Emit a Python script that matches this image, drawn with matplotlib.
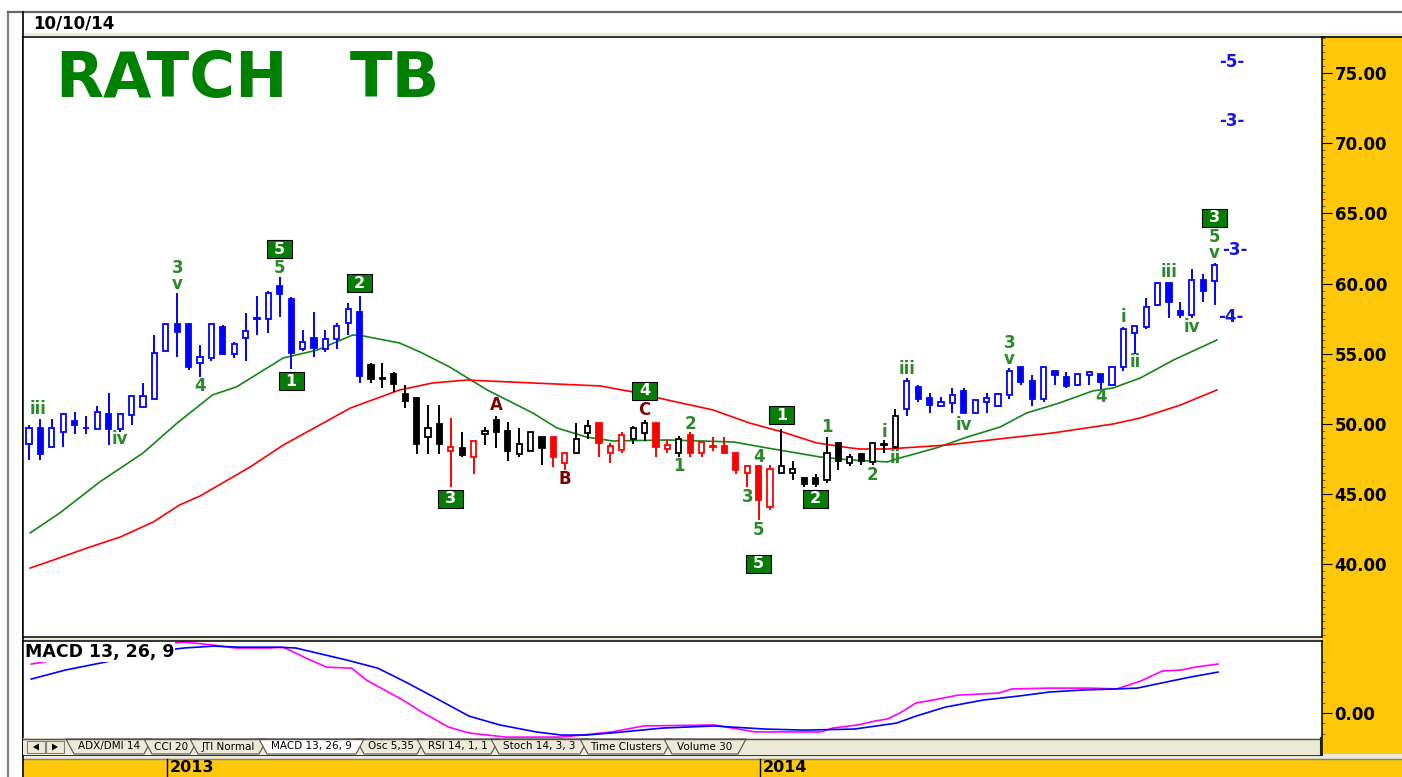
import numpy as np
import matplotlib.pyplot as plt
from matplotlib.patches import Rectangle, Polygon
from matplotlib.ticker import FixedLocator
from matplotlib.transforms import blended_transform_factory

plt.rcParams["font.family"] = ["DejaVu Sans"]

# weekly candles (price units)
opens = [48.55, 49.74, 48.34, 49.46, 50.24, 49.72, 49.65, 50.69, 49.65, 50.64,
         51.24, 51.76, 55.20, 57.10, 57.10, 54.32, 54.73, 56.94, 54.96, 56.15,
         57.50, 57.46, 59.83, 58.93, 55.34, 56.10, 55.34, 56.06, 57.22, 57.98,
         54.20, 53.27, 53.54, 52.12, 51.83, 49.10, 49.98, 48.10, 48.32, 47.63,
         49.29, 50.29, 49.53, 47.87, 48.10, 49.05, 49.05, 47.25, 47.96, 49.39,
         50.10, 47.96, 48.15, 48.91, 49.39, 50.10, 48.20, 47.91, 49.22, 47.91,
         48.34, 48.46, 47.96, 46.54, 47.01, 44.12, 46.49, 46.54, 46.13, 46.13,
         46.02, 48.68, 47.20, 47.86, 47.32, 48.50, 48.39, 51.04, 52.61, 51.83,
         51.28, 51.52, 52.37, 50.76, 51.59, 51.28, 52.07, 54.04, 53.09, 51.76,
         53.77, 53.32, 52.78, 53.49, 53.56, 52.78, 54.04, 56.50, 56.89, 58.48,
         60.02, 58.07, 57.76, 60.26, 60.21]
highs = [49.93, 50.36, 50.36, 50.69, 50.88, 50.60, 51.31, 52.19, 50.69, 52.02,
         52.90, 56.32, 57.10, 59.36, 57.22, 55.63, 57.10, 57.05, 55.87, 57.93,
         59.12, 59.50, 60.50, 59.07, 56.70, 57.96, 56.70, 57.17, 58.64, 59.12,
         54.37, 54.37, 53.68, 52.78, 51.95, 51.36, 51.36, 50.45, 49.46, 48.82,
         49.77, 50.57, 50.17, 49.70, 49.46, 49.05, 49.05, 47.96, 50.05, 50.29,
         50.10, 48.68, 49.46, 49.86, 50.29, 50.10, 48.87, 49.15, 49.46, 48.70,
         49.10, 49.10, 47.96, 47.01, 47.01, 47.08, 49.62, 47.39, 46.20, 46.44,
         49.10, 48.68, 47.86, 47.86, 48.62, 48.86, 51.04, 53.25, 52.78, 52.23,
         51.95, 52.54, 52.54, 51.71, 52.23, 52.23, 53.97, 54.04, 53.49, 54.04,
         53.77, 53.73, 53.56, 53.80, 53.56, 54.04, 56.93, 56.98, 58.95, 60.02,
         60.02, 58.71, 61.02, 60.69, 61.49]
lows = [47.44, 47.44, 48.34, 48.34, 49.29, 49.29, 49.65, 48.50, 49.41, 49.93,
        51.24, 51.76, 55.20, 54.75, 53.85, 53.37, 54.49, 54.92, 54.73, 54.49,
        56.32, 56.51, 57.65, 53.90, 55.23, 54.80, 55.11, 55.34, 56.34, 52.95,
        52.95, 52.54, 52.26, 51.12, 47.87, 47.87, 47.87, 45.49, 47.63, 46.44,
        48.51, 48.27, 47.39, 47.63, 48.10, 47.08, 46.92, 46.73, 47.87, 48.91,
        47.63, 47.25, 47.91, 48.58, 48.82, 47.63, 47.91, 47.63, 47.63, 47.63,
        48.10, 47.87, 46.44, 45.49, 43.17, 43.88, 46.44, 46.02, 45.49, 45.49,
        45.78, 46.73, 47.00, 47.08, 47.08, 47.91, 48.20, 50.57, 51.59, 50.80,
        51.24, 50.80, 50.76, 50.76, 50.80, 51.24, 51.76, 52.78, 51.28, 51.59,
        52.78, 52.54, 52.71, 52.78, 52.47, 52.78, 53.80, 54.99, 56.74, 58.41,
        57.53, 57.53, 57.53, 58.71, 58.48]
closes = [49.74, 47.87, 49.74, 50.69, 49.93, 49.68, 50.88, 49.65, 50.69, 52.02,
          52.02, 55.04, 57.10, 56.58, 54.09, 54.80, 57.10, 54.96, 55.68, 56.63,
          57.55, 59.36, 59.26, 55.08, 55.82, 55.39, 56.06, 56.98, 58.17, 53.42,
          53.18, 53.23, 52.83, 51.64, 48.55, 49.69, 48.55, 48.34, 47.80, 48.82,
          49.53, 49.46, 48.10, 48.58, 49.46, 48.27, 47.63, 47.96, 48.91, 49.86,
          48.68, 48.44, 49.22, 49.70, 50.10, 48.39, 48.51, 48.94, 47.91, 48.70,
          48.46, 47.91, 46.73, 47.01, 44.59, 46.77, 47.01, 46.77, 45.73, 45.73,
          47.96, 47.39, 47.67, 47.39, 48.62, 48.60, 50.57, 53.06, 51.76, 51.35,
          51.59, 52.07, 50.80, 51.71, 51.83, 52.14, 53.80, 53.02, 51.76, 54.04,
          53.49, 52.71, 53.56, 53.73, 53.02, 54.04, 56.74, 56.98, 58.31, 60.02,
          58.72, 57.76, 60.26, 59.50, 61.33]
# b = blue, k = black, r = red
candle_colors = ("b" * 30 + "k" * 7 + "r" + "k" + "r" + "k" * 6 + "rr" + "kk"
                 + "rrr" + "kk" + "rr" + "k" + "r" * 8 + "k" * 11 + "b" * 28)

# moving averages (green fast, red slow), x in bar index
ma_fast_x = [0.1, 2.7, 6.2, 10.0, 13.0, 16.1, 18.2, 22.3, 25.3, 28.4, 29.3, 32.5,
             34.3, 36.9, 40.2, 44.2, 46.3, 48.9, 51.2, 56.0, 61.8, 64.7, 69.4, 72.0,
             75.3, 76.4, 79.6, 82.3, 85.2, 87.5, 90.4, 93.3, 95.1, 97.5, 100.4, 104.2]
ma_fast = [42.24, 43.66, 45.87, 47.93, 50.07, 52.07, 52.64, 54.70, 55.27, 56.34,
           56.27, 55.77, 55.13, 54.06, 52.42, 50.78, 49.72, 49.07, 48.79, 48.86,
           48.72, 48.30, 47.65, 47.44, 47.30, 47.58, 48.30, 49.07, 49.79, 50.78,
           51.50, 52.35, 52.57, 53.28, 54.56, 55.98]
ma_slow_x = [0.1, 2.1, 5.1, 8.0, 10.9, 13.2, 15.0, 17.4, 19.4, 22.3, 25.5, 28.2,
             32.5, 35.4, 38.4, 44.2, 50.1, 53.0, 56.0, 60.0, 63.2, 66.1, 69.1, 72.0,
             72.9, 75.3, 80.5, 85.8, 89.8, 95.1, 97.5, 101.0, 104.2]
ma_slow = [39.74, 40.30, 41.17, 41.95, 43.02, 44.23, 44.87, 46.00, 46.94, 48.50,
           49.93, 51.14, 52.42, 52.92, 53.13, 52.92, 52.71, 52.28, 51.71, 51.00,
           50.07, 49.43, 48.65, 48.30, 48.22, 48.22, 48.50, 49.00, 49.36, 50.00,
           50.43, 51.35, 52.42]

# MACD 13,26,9 (magenta) and its signal (blue)
macd_x = [0.2, 1.7, 7.0, 13.6, 16.2, 18.1, 21.1, 22.3, 24.3, 26.1, 28.3, 29.6,
          32.8, 34.6, 36.8, 38.6, 41.8, 46.7, 48.5, 51.1, 53.9, 60.1, 63.7, 66.1,
          69.5, 70.5, 72.7, 74.2, 75.3, 76.4, 77.8, 79.3, 81.5, 85.1, 86.2, 89.5,
          93.2, 95.4, 97.5, 99.4, 101.1, 102.3, 104.3]
macd = [2.38, 2.52, 3.10, 3.45, 3.30, 3.16, 3.16, 3.20, 2.67, 2.23, 2.18, 1.60,
        0.63, 0.00, -0.68, -0.97, -1.17, -1.17, -1.07, -0.92, -0.63, -0.58, -0.92,
        -0.92, -0.92, -0.73, -0.58, -0.39, -0.29, 0.00, 0.49, 0.63, 0.87, 0.97,
        1.17, 1.21, 1.21, 1.17, 1.55, 2.04, 2.09, 2.23, 2.38]
signal_x = [0.2, 3.2, 7.1, 10.6, 13.6, 16.2, 18.5, 21.7, 23.4, 27.9, 30.6, 33.2,
            36.0, 38.6, 41.3, 44.5, 46.7, 48.9, 51.1, 55.6, 60.1, 64.6, 68.0, 72.4,
            76.1, 77.8, 80.4, 83.7, 86.9, 89.5, 92.5, 95.4, 97.2, 99.7, 101.9, 104.3]
signal = [1.65, 2.09, 2.52, 2.96, 3.16, 3.25, 3.20, 3.20, 3.16, 2.57, 2.18, 1.46,
          0.63, -0.15, -0.58, -0.92, -1.07, -1.07, -0.97, -0.73, -0.63, -0.78,
          -0.83, -0.78, -0.49, -0.15, 0.29, 0.63, 0.83, 1.02, 1.12, 1.17, 1.21,
          1.50, 1.75, 1.99]

price_ticks = [40, 45, 50, 55, 60, 65, 70, 75]
year_labels = ["2013", "2014"]
year_starts = [12.1, 64.1]

# wave counts: (text, bar index, price)
wave_labels = [("iii", 0.8, 51.1), ("iv", 8, 48.9), ("3", 13, 61.1), ("v", 13, 60.0),
               ("4", 15, 52.7), ("5", 22, 61.1), ("1", 57, 47.0), ("2", 58, 50.0),
               ("3", 63, 44.8), ("4", 64, 47.65), ("5", 64, 42.45), ("1", 70, 49.8),
               ("2", 74, 46.4), ("i", 75, 49.4), ("ii", 76, 47.6), ("iii", 77, 53.9),
               ("iv", 82, 49.9), ("3", 86, 55.8), ("v", 86, 54.6), ("4", 94, 51.9),
               ("i", 96, 57.6), ("ii", 97, 54.4), ("iii", 100, 60.8), ("iv", 102, 56.9),
               ("5", 104, 63.3), ("v", 104, 62.2)]
wave_boxes = [("5", 22, 62.46), ("1", 23, 53.06), ("2", 29, 60.04), ("3", 37, 44.66),
              ("4", 54, 52.35), ("5", 64, 40.03), ("1", 66, 50.64), ("2", 69, 44.66),
              ("3", 104, 64.67)]
abc_labels = [("A", 41, 51.35), ("B", 47, 46.08), ("C", 54, 51.0)]
target_labels = [("-5-", 105.5, 75.78), ("-3-", 105.5, 71.58), ("-3-", 105.8, 62.39),
                 ("-4-", 105.4, 57.62)]

tab_names = ["ADX/DMI 14", "CCI 20", "JTI Normal", "MACD 13, 26, 9", "Osc 5,35",
             "RSI 14, 1, 1", "Stoch 14, 3, 3", "Time Clusters", "Volume 30"]
active_tab = 3

YELLOW = "#FFC70A"
BEIGE = "#ECE9D8"
W, H = 1402, 777


def frame(x0, y0, x1, y1):
    return [x0 / W, 1 - y1 / H, (x1 - x0) / W, (y1 - y0) / H]


def box(a, x0, y0, x1, y1, color, z=1):
    a.add_patch(Rectangle((x0, y0), x1 - x0, y1 - y0, facecolor=color,
                          edgecolor="none", zorder=z))


fig = plt.figure(figsize=(W / 100, H / 100), dpi=100, facecolor="white")

# window chrome behind the panels
bg = fig.add_axes([0, 0, 1, 1], zorder=0)
bg.set_xlim(0, W)
bg.set_ylim(H, 0)
bg.axis("off")
box(bg, 1322, 37, W, 755, YELLOW)
box(bg, 23, 759, W, H, YELLOW)
box(bg, 23, 754, W, 759, BEIGE)
box(bg, 23, 637, 1322, 641, BEIGE)
box(bg, 23, 33, W, 36, BEIGE)
bg.plot([23, W], [758.5, 758.5], color="#808080", lw=1)
bg.plot([1322, W], [37, 37], color="black", lw=1.2)
bg.plot([8, 8], [12, H], color="#808080", lw=1.6)
bg.plot([8, W], [12, 12], color="#686868", lw=1.6)
bg.plot([23, 23], [12, H], color="black", lw=1.2)
bg.text(33, 24, "10/10/14", fontsize=12, fontweight="bold", va="center")

# price panel
ax = fig.add_axes(frame(23, 37, 1322, 637), zorder=2)
x = np.arange(len(closes))
cmap = {"b": "#0000FF", "k": "#000000", "r": "#FF0000"}
cols = [cmap[c] for c in candle_colors]
o = np.array(opens)
c = np.array(closes)
body_lo = np.minimum(o, c)
body_h = np.maximum(np.abs(c - o), 0.06)
faces = ["white" if cl >= op else col for op, cl, col in zip(opens, closes, cols)]
ax.vlines(x, lows, highs, colors=cols, lw=1.4, zorder=3)
ax.bar(x, body_h, width=0.45, bottom=body_lo, color=faces, edgecolor=cols,
       linewidth=1.3, zorder=4)
ax.plot(ma_fast_x, ma_fast, color="#138613", lw=1.2, zorder=2)
ax.plot(ma_slow_x, ma_slow, color="#FF0000", lw=1.2, zorder=2)

for s, i, p in wave_labels:
    ax.text(i, p, s, color="#2A8A2A", fontsize=12, fontweight="bold",
            ha="center", va="center", zorder=6)
for s, i, p in abc_labels:
    ax.text(i, p, s, color="#800000", fontsize=12, fontweight="bold",
            ha="center", va="center", zorder=6)
for s, i, p in target_labels:
    ax.text(i, p, s, color="#1414F0", fontsize=12, fontweight="bold",
            ha="center", va="center", zorder=6)
for s, i, p in wave_boxes:
    ax.add_patch(Rectangle((i - 1.1, p - 0.64), 2.2, 1.28, facecolor="#077D07",
                           edgecolor="black", lw=0.8, zorder=6))
    ax.text(i, p, s, color="white", fontsize=11.5, fontweight="bold",
            ha="center", va="center", zorder=7)

ax.text(0.0246, 0.9, "RATCH", transform=ax.transAxes, color="#008000",
        fontsize=45, fontweight="bold", va="baseline")
ax.text(0.2517, 0.9, "TB", transform=ax.transAxes, color="#008000",
        fontsize=45, fontweight="bold", va="baseline")

ax.set_xlim((23 - 29) / 11.4, (1322 - 29) / 11.4)
ax.set_ylim(34.83, 77.56)
ax.yaxis.tick_right()
ax.set_yticks(price_ticks)
ax.set_yticklabels([f"{v:.2f}" for v in price_ticks])
ax.yaxis.set_minor_locator(FixedLocator(np.arange(35, 77.6, 0.5)))
ax.tick_params(axis="y", which="major", length=7, width=0.8, pad=2,
               labelsize=12, direction="out")
ax.tick_params(axis="y", which="minor", length=2.2, width=0.5, direction="out",
               color="#303030")
for lbl in ax.get_yticklabels():
    lbl.set_fontweight("bold")
ax.set_xticks([])
for sp in ax.spines.values():
    sp.set_linewidth(1.1)

# MACD panel
mx = fig.add_axes(frame(23, 641, 1322, 755), zorder=2, sharex=ax)
mx.plot(macd_x, macd, color="#FF00FF", lw=1.2)
mx.plot(signal_x, signal, color="#0000FF", lw=1.2)
mx.set_ylim(-2.04, 3.50)
mx.yaxis.tick_right()
mx.set_yticks([0])
mx.set_yticklabels(["0.00"])
mx.yaxis.set_minor_locator(FixedLocator([-1, -0.5, 0.5, 1, 1.5, 2, 2.5]))
mx.tick_params(axis="y", which="major", length=7, width=0.8, pad=2,
               labelsize=12, direction="out")
mx.tick_params(axis="y", which="minor", length=2.2, width=0.5, direction="out",
               color="#303030")
for lbl in mx.get_yticklabels():
    lbl.set_fontweight("bold")
mx.set_xticks([])
for sp in mx.spines.values():
    sp.set_linewidth(1.1)

# year strip under everything
trans = blended_transform_factory(ax.transData, bg.transData)
for lab, pos in zip(year_labels, year_starts):
    bg.plot([pos, pos], [759, H], transform=trans, color="black", lw=1)
    bg.text(pos + 0.25, 768, lab, transform=trans, fontsize=11.5,
            fontweight="bold", va="center")

# overlay: MACD caption and the tab strip
fg = fig.add_axes([0, 0, 1, 1], zorder=5)
fg.set_xlim(0, W)
fg.set_ylim(H, 0)
fg.axis("off")
fg.text(25, 652, "MACD 13, 26, 9", fontsize=12.5, fontweight="bold", va="center",
        bbox=dict(boxstyle="square,pad=0.05", facecolor="white", edgecolor="none"))

box(fg, 23, 738, 1321, 755, BEIGE)
fg.plot([23, 1321], [738.5, 738.5], color="#505050", lw=1)
fg.plot([1320.5, 1320.5], [738, 755], color="#202020", lw=1.5)
for bx, sign in [(27, -1), (46, 1)]:
    fg.add_patch(Rectangle((bx, 741), 18, 12, facecolor=BEIGE, edgecolor="#808080", lw=0.8))
    cx = bx + 9
    fg.add_patch(Polygon([(cx + 3 * sign, 747), (cx - 3 * sign, 743.5), (cx - 3 * sign, 750.5)],
                         closed=True, facecolor="black", edgecolor="none"))

tab_edges = [70, 148, 194, 263, 360, 421, 495, 584, 668, 742]
order = [k for k in range(len(tab_names)) if k != active_tab] + [active_tab]
for k in order:
    l, r = tab_edges[k], tab_edges[k + 1]
    face = "white" if k == active_tab else BEIGE
    fg.add_patch(Polygon([(l - 4, 739), (r + 4, 739), (r - 4, 754), (l + 4, 754)],
                         closed=True, facecolor=face, edgecolor="#505050", lw=0.8))
    fg.text((l + r) / 2, 746.5, tab_names[k], fontsize=7.5, ha="center", va="center")

fig.savefig("out.png", dpi=100)
